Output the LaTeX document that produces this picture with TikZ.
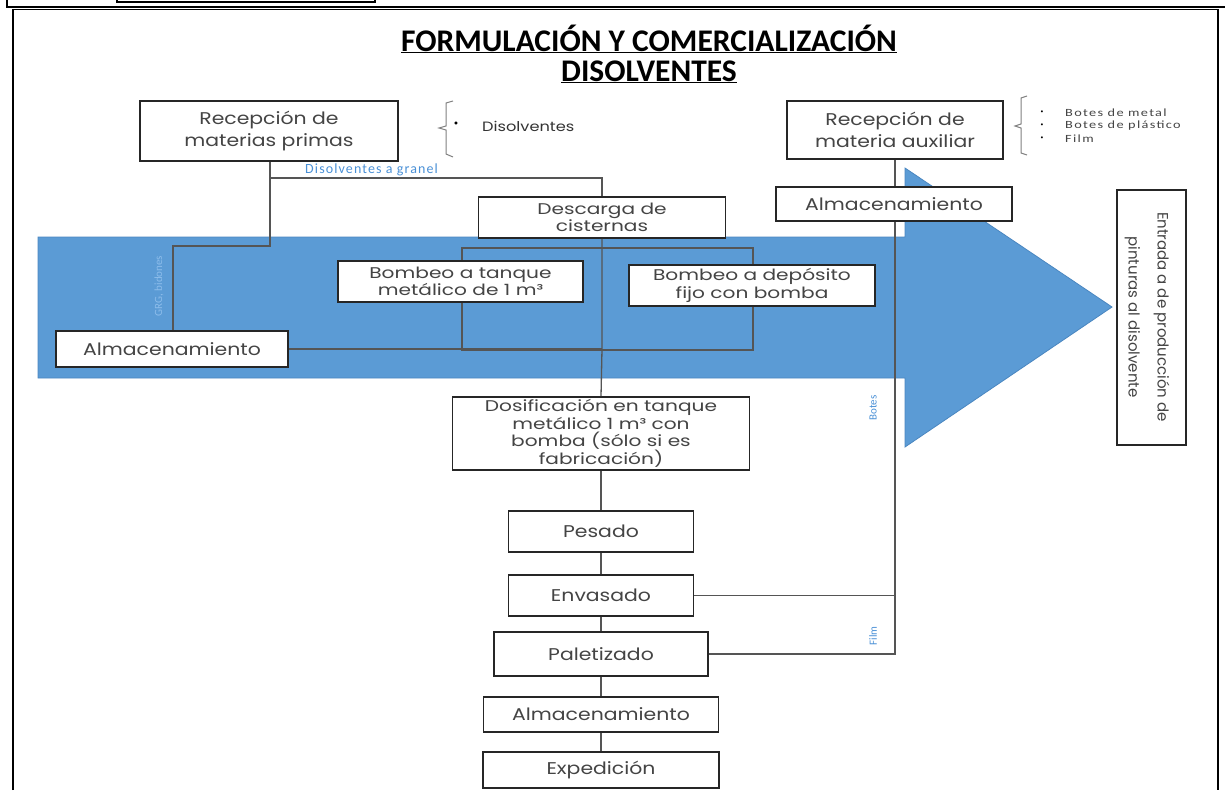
\documentclass[tikz,border=0pt]{standalone}
\usepackage{fontspec}
\setmainfont{Poppins}
\newfontfamily\gfont[FakeStretch=1.2]{Poppins}
\newfontfamily\tfont[FakeStretch=1.3]{Poppins}
\newfontfamily\cfont{Carlito}
\newfontfamily\sfont[LetterSpace=8]{Carlito}
\newfontfamily\wfont[LetterSpace=12,FakeStretch=1.3]{Carlito}
\definecolor{arrowblue}{HTML}{5B9BD5}
\definecolor{arrowedge}{HTML}{4A86C0}
\definecolor{lblblue}{HTML}{4A90D6}
\definecolor{lbllight}{HTML}{8DBDEB}
\definecolor{txtgray}{HTML}{444444}
\definecolor{lngray}{HTML}{555555}
\begin{document}
\begin{tikzpicture}[x=1pt,y=-1pt,
  bx/.style={draw=black!85,line width=1.6pt,fill=white,inner sep=0pt,align=center,
     text=txtgray,font=\gfont\fontsize{17}{22}\selectfont},
  tight/.style={font=\tfont\fontsize{15.5}{17.5}\selectfont},
  conn/.style={draw=lngray,line width=1.3pt},
  lbl/.style={text=lblblue,font=\cfont\fontsize{11}{13}\selectfont,inner sep=0pt}]
\useasboundingbox (0,0) rectangle (1225,790);
% frames
\draw[line width=1.6pt] (7,0) -- (7,7) -- (1225,7);
\draw[line width=1.6pt] (13,790) -- (13,9.5) -- (1218,9.5) -- (1218,790);
\draw[line width=1.3pt] (117,-5) rectangle (375,2);
% title
\node[font=\cfont\bfseries\fontsize{31.5}{31.5}\selectfont,inner sep=0pt,anchor=base] (title1) at (649,51)
  {\underline{FORMULACIÓN Y COMERCIALIZACIÓN}};
\node[font=\cfont\bfseries\fontsize{31.5}{31.5}\selectfont,inner sep=0pt,anchor=base] (title2) at (649,81)
  {\underline{DISOLVENTES}};
% blue arrow
\fill[arrowblue,draw=arrowedge,line width=0.8pt] (38,237) -- (905,237) -- (905,168) -- (1112,307) -- (905,447) -- (905,378) -- (38,378) -- cycle;
% coordinates
\coordinate (j1) at (270,178);
\coordinate (j2) at (602,178);
\coordinate (j3) at (270,246);
\coordinate (j4) at (173,246);
\coordinate (jm) at (602,349);
\coordinate (jb) at (895,595.5);
\coordinate (jf) at (895,654);
% boxes
\node[bx,minimum width=258pt,minimum height=60pt] (rmp) at (269,131) {Recepción de\\materias primas};
\node[bx,minimum width=216pt,minimum height=58pt] (rma) at (895,130) {Recepción de\\materia auxiliar};
\node[bx,minimum width=236pt,minimum height=34pt] (alma) at (894,204) {Almacenamiento};
\node[bx,tight,minimum width=247pt,minimum height=41pt] (desc) at (602,217.5) {Descarga de\\cisternas};
\node[bx,minimum width=232pt,minimum height=36pt] (alml) at (172,349) {Almacenamiento};
\node[bx,tight,minimum width=297pt,minimum height=73pt] (dosif) at (601,433.5) {Dosificación en tanque\\metálico 1 m³ con\\bomba (sólo si es\\fabricación)};
\node[bx,minimum width=185pt,minimum height=41pt] (pes) at (601,531.5) {Pesado};
\node[bx,minimum width=185pt,minimum height=41pt] (env) at (601,595.5) {Envasado};
\node[bx,minimum width=214pt,minimum height=44pt] (pal) at (601,654) {Paletizado};
\node[bx,minimum width=235pt,minimum height=35pt] (alm3) at (601,714.5) {Almacenamiento};
\node[bx,minimum width=236pt,minimum height=36pt] (exp) at (601,770) {Expedición};
\node[bx,minimum width=69pt,minimum height=255pt] (ent) at (1151.5,317.5) {};
\node[rotate=-90,align=center,text=txtgray,font=\setmainfont{Poppins}\fontsize{15}{29}\selectfont,inner sep=0pt] (entt) at (1147,317) {Entrada a de producción de\\pinturas al disolvente};
% connectors
\draw[conn] (rmp.south -| j1) -- (j3) -- (j4) -- (alml.north -| j4);
\draw[conn] (j1) -- (j2) -- (desc.north);
\draw[conn] (desc.south) -- (jm) -- (dosif.north);
\draw[conn] (462,248) rectangle (753,350);
\draw[conn] (alml.east) -- (jm);
\draw[conn] (rma.south) -- (alma.north -| rma.south);
\draw[conn] (alma.south -| rma.south) -- (jf) -- (pal.east);
\draw[conn] (env.east) -- (jb);
\draw[conn] (dosif.south) -- (pes.north);
\draw[conn] (pes.south) -- (env.north);
\draw[conn] (env.south) -- (pal.north);
\draw[conn] (pal.south) -- (alm3.north);
\draw[conn] (alm3.south) -- (exp.north);
% boxes drawn over the rectangle
\node[bx,tight,minimum width=245pt,minimum height=41pt] (bt1) at (460.5,281.5) {Bombeo a tanque\\metálico de 1 m³};
\node[bx,tight,minimum width=246pt,minimum height=41pt] (bt2) at (752,285.5) {Bombeo a depósito\\fijo con bomba};
% labels
\node[lbl,anchor=west,font=\sfont\fontsize{14}{14}\selectfont] (lgr) at (305,170) {Disolventes a granel};
\node[lbl,rotate=90,text=lbllight] (lgrg) at (159,286) {GRG, bidones};
\node[lbl,rotate=90] (lbot) at (873,408) {Botes};
\node[lbl,rotate=90] (lfil) at (873,636) {Film};
% left bracket list
\draw[line width=1pt,draw=gray] (453,101) -- (446,103) -- (446,126) -- (439,128) -- (446,130) -- (446,154) -- (453,157);
\node[font=\fontsize{12}{12}\selectfont,inner sep=0pt] (bl1) at (456,125) {•};
\node[font=\gfont\fontsize{13.5}{14}\selectfont,text=black!80,anchor=west,inner sep=0pt] (ld) at (482,126) {Disolventes};
% right bracket list
\draw[line width=1pt,draw=gray] (1027,96) -- (1021,98) -- (1021,124) -- (1015,126) -- (1021,128) -- (1021,153) -- (1027,155);
\node[font=\fontsize{8}{8}\selectfont,inner sep=0pt] (bb1) at (1042,113) {•};
\node[font=\fontsize{8}{8}\selectfont,inner sep=0pt] (bb2) at (1042,126) {•};
\node[font=\fontsize{8}{8}\selectfont,inner sep=0pt] (bb3) at (1042,139) {•};
\begin{scope}[every node/.style={font=\wfont\fontsize{11}{11}\selectfont,text=txtgray,anchor=west,inner sep=0pt}]
\node (r1) at (1065,113) {Botes de metal};
\node (r2) at (1065,126) {Botes de plástico};
\node (r3) at (1065,139) {Film};
\end{scope}
\end{tikzpicture}
\end{document}
